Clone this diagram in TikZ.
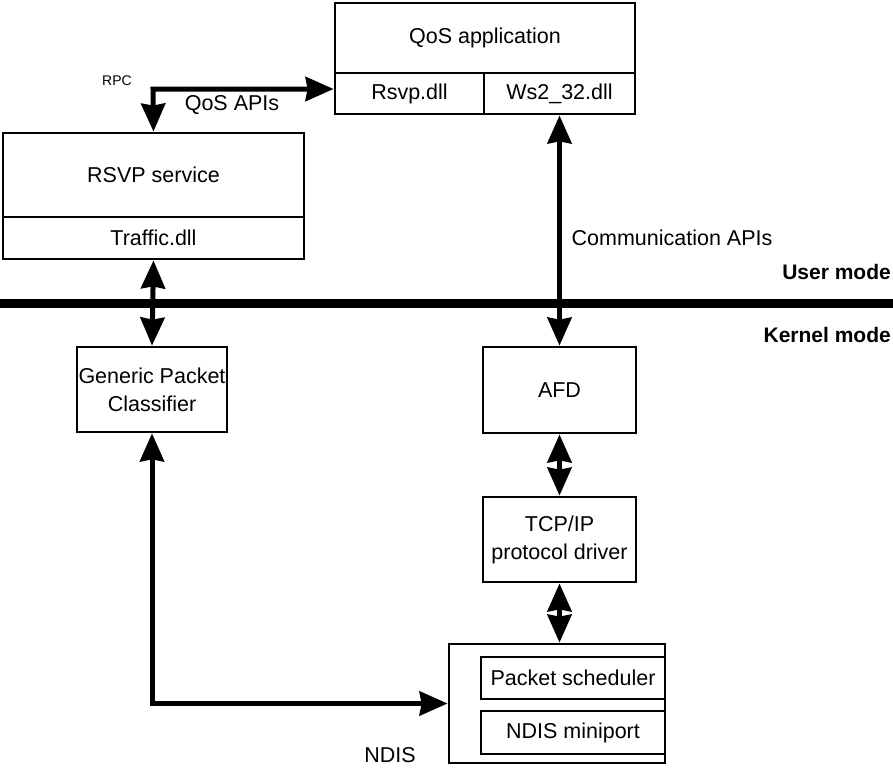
\documentclass[tikz,border=0pt]{standalone}
\usepackage{fontspec}
\setmainfont{Liberation Sans}
\usetikzlibrary{arrows.meta}
\begin{document}
\begin{tikzpicture}[x=1pt,y=-1pt,
  box/.style={draw, line width=2.8pt, rectangle, inner sep=0pt, align=center,
    font=\fontsize{21.5}{28}\selectfont},
  conn/.style={line width=5pt, line join=miter,
    {Stealth[length=28pt,width=24pt,inset=2pt]}-{Stealth[length=28pt,width=24pt,inset=2pt]}},
  lbl/.style={font=\fontsize{21.5}{26}\selectfont, inner sep=0pt},
  modelbl/.style={font=\fontsize{21}{25}\selectfont\bfseries, inner sep=0pt, anchor=east},
]
\useasboundingbox (0,0) rectangle (893,768);

% QoS application with its two DLLs
\node[box, minimum width=300pt, minimum height=70pt] (qosapp) at (485,38) {QoS application};
\node[box, minimum width=149pt, minimum height=41pt] (rsvpdll) at (409.5,93.5) {Rsvp.dll};
\node[box, minimum width=151pt, minimum height=41pt] (ws2) at (559.5,93.5) {Ws2\_32.dll};

% RSVP service with Traffic.dll
\node[box, minimum width=301pt, minimum height=84pt] (rsvp) at (153.5,175) {RSVP service};
\node[box, minimum width=301pt, minimum height=42pt] (traffic) at (153.5,238) {Traffic.dll};

% user / kernel boundary
\coordinate (bndl) at (0,303);
\coordinate (bndr) at (893,303);
\draw[line width=9pt] (bndl) -- (bndr);
\node[modelbl] (user) at (891,272) {User mode};
\node[modelbl] (kernel) at (891,335) {Kernel mode};

% kernel-mode components
\node[box, minimum width=150pt, minimum height=85pt] (gpc) at (152,389.5) {Generic Packet\\Classifier};
\node[box, minimum width=153pt, minimum height=86pt] (afd) at (559.5,390) {AFD};
\node[box, minimum width=153pt, minimum height=85pt] (tcpip) at (559.5,539.5) {TCP/IP\\protocol driver};

% NDIS wrapper with packet scheduler and miniport
\node[box, minimum width=216pt, minimum height=119pt] (ndis) at (557,703.5) {};
\node[box, minimum width=184pt, minimum height=42pt] (psched) at (573,678) {Packet scheduler};
\node[box, minimum width=184pt, minimum height=43pt] (mini) at (573,732.5) {NDIS miniport};
\node[lbl] (ndislbl) at (390,755) {NDIS};

% RPC / QoS API path
\coordinate (rpcbend) at (153,89);
\draw[conn] (rsvp.north) -- (rpcbend) -- (rpcbend -| rsvpdll.west);
\node[font=\fontsize{14}{16}\selectfont, inner sep=0pt] (rpc) at (117,81) {RPC};
\node[lbl] (qosapis) at (232,105) {QoS APIs};

% communication paths
\draw[conn] (traffic.south) -- (gpc.north);
\draw[conn] (ws2.south) -- (afd.north);
\node[lbl] (commapis) at (672,238) {Communication APIs};
\draw[conn] (afd.south) -- (tcpip.north);
\draw[conn] (tcpip.south) -- (ndis.north -| tcpip.south);
\draw[conn] (gpc.south) |- (ndis.west);
\end{tikzpicture}
\end{document}
